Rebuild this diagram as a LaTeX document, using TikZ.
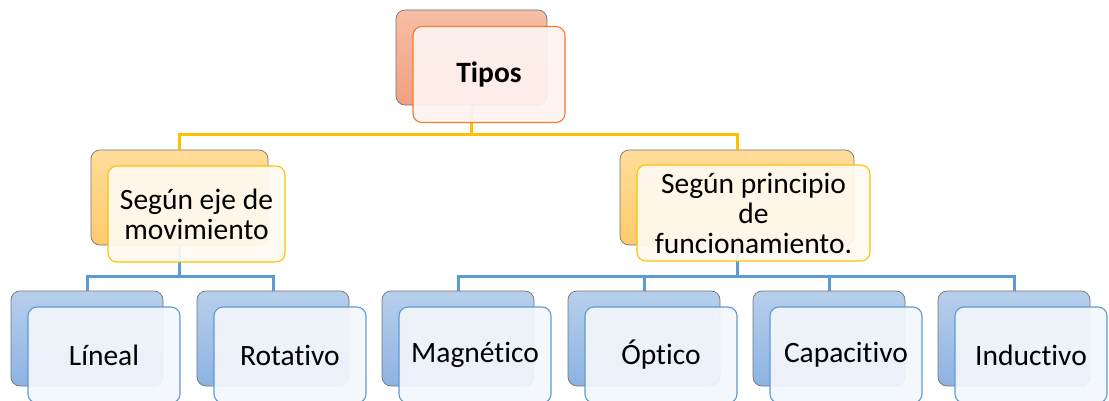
\documentclass[tikz,border=0pt]{standalone}
\usepackage{fontspec}
\setmainfont[RawFeature={-liga;-clig;-calt}]{Carlito}
\definecolor{orgB}{HTML}{ED7D31}
\definecolor{yelB}{HTML}{FFC000}
\definecolor{bluB}{HTML}{5B9BD5}
\definecolor{orgT}{HTML}{F7BEA6}
\definecolor{orgD}{HTML}{F1A080}
\definecolor{yelT}{HTML}{FFDD9A}
\definecolor{yelD}{HTML}{FDCB6C}
\definecolor{bluT}{HTML}{B7CFEC}
\definecolor{bluD}{HTML}{8DB3E2}
\definecolor{orgF}{HTML}{FDF3F0}
\definecolor{yelF}{HTML}{FFFAF0}
\definecolor{bluF}{HTML}{F3F6FB}
\begin{document}
\begin{tikzpicture}[x=1pt,y=-1pt,
  back/.style={rounded corners=9pt, draw=black!55, line width=0.7pt, minimum height=95pt, inner sep=0pt},
  front/.style={rounded corners=9pt, line width=1.1pt, minimum height=96pt, inner sep=0pt, fill opacity=0.93, text opacity=1, align=center, font=\fontsize{29.5}{30}\selectfont},
  lvA/.style={back, top color=orgT, bottom color=orgD, minimum width=151pt},
  lvB/.style={back, top color=yelT, bottom color=yelD},
  lvC/.style={back, top color=bluT, bottom color=bluD, minimum width=152pt},
  frA/.style={front, draw=orgB, fill=orgF, minimum width=152pt},
  frB/.style={front, draw=yelB, fill=yelF},
  frC/.style={front, draw=bluB, fill=bluF, minimum width=152pt},
  conY/.style={draw=yelB, line width=3pt},
  conB/.style={draw=bluB, line width=3pt}]
\useasboundingbox (0,0) rectangle (1109,401);
\clip (0,0) rectangle (1109,401);
% back boxes
\node[lvA] (b0) at (471.5,57.5) {};
\node[lvB, minimum width=177pt] (b1) at (179.5,197.5) {};
\node[lvB, minimum width=234pt] (b2) at (737,197.5) {};
\node[lvC] (c1) at (87,338.5) {};
\node[lvC] (c2) at (273,338.5) {};
\node[lvC] (c3) at (458,338.5) {};
\node[lvC] (c4) at (644,338.5) {};
\node[lvC] (c5) at (829,338.5) {};
\node[lvC] (c6) at (1014,338.5) {};
% connectors
\coordinate (j0) at (471.5,135);
\coordinate (j1) at (179.5,276);
\coordinate (j2) at (737,276);
\draw[conY] (b0.south) -- (j0) -| (b1.north);
\draw[conY] (j0) -| (b2.north);
\draw[conB] (b1.south) -- (j1) -| (c1.north);
\draw[conB] (j1) -| (c2.north);
\draw[conB] (b2.south) -- (j2) -| (c3.north);
\draw[conB] (j2) -| (c4.north);
\draw[conB] (j2) -| (c5.north);
\draw[conB] (j2) -| (c6.north);
% front boxes
\node[frA] (f0) at (489,74.5) {\bfseries Tipos};
\node[frB, minimum width=177pt] (f1) at (196.5,214) {Según eje de\\movimiento};
\node[frB, minimum width=233pt] (f2) at (753.5,213) {Según principio\\de\\funcionamiento.};
\node[frC] (g1) at (104,355) {Líneal};
\node[frC] (g2) at (290,355) {Rotativo};
\node[frC] (g3) at (475,355) {Magnético};
\node[frC] (g4) at (661,355) {Óptico};
\node[frC] (g5) at (846,355) {Capacitivo};
\node[frC] (g6) at (1031,355) {Inductivo};
\end{tikzpicture}
\end{document}
